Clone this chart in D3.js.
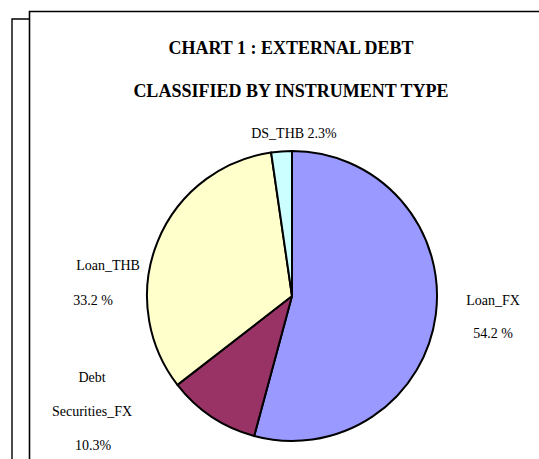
<!DOCTYPE html>
<html>
<head>
<meta charset="utf-8">
<script src="https://cdn.jsdelivr.net/npm/d3@7"></script>
<style>
html,body{margin:0;padding:0;background:#fff;}
svg{display:block;}
</style>
</head>
<body>
<svg id="chart" width="539" height="459"></svg>
<script>
// ---- data ----
const categories = ["Loan_FX", "Debt Securities_FX", "Loan_THB", "DS_THB"];
const shares = [54.2, 10.3, 33.2, 2.3];
const labelLines = [
  ["Loan_FX", "54.2 %"],
  ["Debt", "Securities_FX", "10.3%"],
  ["Loan_THB", "33.2 %"],
  ["DS_THB 2.3%"]
];
const titleLines = ["CHART 1 : EXTERNAL DEBT", "CLASSIFIED BY INSTRUMENT TYPE"];

// ---- layout / style ----
const FONT = "'Liberation Serif', 'Times New Roman', Times, serif";
const colors = ["#9999FF", "#993366", "#FFFFCC", "#CCFFFF"];
const W = 539, H = 459;
const cx = 292, cy = 296, r = 145;
const labelPos = [
  {x: 201, y: 20.5, lineDx: [0, 0]},
  {x: -200, y: 115, lineDx: [0, 0, 1]},
  {x: -192, y: -13.5, lineDx: [8, -7]},
  {x: 2,   y: -163, lineDx: [0]}
];
const lineGap = [33, 34, 35, 0];

const svg = d3.select("#chart");

// frames
svg.append("path")
  .attr("d", `M12,${H} V19 H29.5`)
  .attr("fill", "none").attr("stroke", "#000").attr("stroke-width", 1.4);
svg.append("path")
  .attr("d", `M29.5,${H} V11.5 H${W}`)
  .attr("fill", "none").attr("stroke", "#000").attr("stroke-width", 1.6);

// title
svg.selectAll("text.title").data(titleLines).join("text")
  .attr("class", "title")
  .attr("x", 291)
  .attr("y", (d, i) => 53.5 + i * 43)
  .attr("text-anchor", "middle")
  .attr("font-family", FONT)
  .attr("font-weight", "bold")
  .attr("font-size", 18)
  .attr("fill", "#000")
  .text(d => d);

// pie
const pie = d3.pie().sort(null).value(d => d)(shares);
const arc = d3.arc().innerRadius(0).outerRadius(r);
const g = svg.append("g").attr("transform", `translate(${cx},${cy})`);
g.selectAll("path.slice").data(pie).join("path")
  .attr("class", "slice")
  .attr("d", arc)
  .attr("fill", (d, i) => colors[i])
  .attr("stroke", "#000")
  .attr("stroke-width", 2)
  .attr("stroke-linejoin", "round");

// labels
pie.forEach((d, i) => {
  const p = labelPos[i];
  const lines = labelLines[i];
  const n = lines.length;
  const t = g.append("g").attr("class", "label");
  lines.forEach((ln, j) => {
    t.append("text")
      .attr("x", p.x + p.lineDx[j])
      .attr("y", p.y + (j - (n - 1) / 2) * lineGap[i])
      .attr("dy", "0.35em")
      .attr("text-anchor", "middle")
      .attr("font-family", FONT)
      .attr("font-size", 14)
      .attr("fill", "#000")
      .text(ln);
  });
});
</script>
</body>
</html>
